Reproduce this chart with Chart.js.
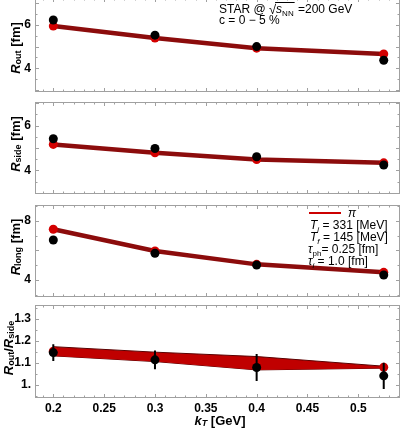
<!DOCTYPE html>
<html>
<head>
<meta charset="utf-8">
<script src="https://cdn.jsdelivr.net/npm/chart.js@4.4.0/dist/chart.umd.min.js"></script>
<style>
  html, body { margin: 0; padding: 0; background: #fff; }
  #wrap { position: relative; width: 407px; height: 428px; overflow: hidden; }
  .box { position: absolute; left: 0; width: 407px; }
</style>
</head>
<body>
<div id="wrap">
  <div class="box" style="top:-2px;height:94px"><canvas id="pOut"></canvas></div>
  <div class="box" style="top:102px;height:92px"><canvas id="pSide"></canvas></div>
  <div class="box" style="top:205px;height:92px"><canvas id="pLong"></canvas></div>
  <div class="box" style="top:300px;height:128px"><canvas id="pRatio"></canvas></div>
</div>
<script>
// k_T bins [GeV]
const kT = [0.2, 0.3, 0.4, 0.525];

// STAR data (black) and model (red)
const routData = [6.23, 5.53, 5.0, 4.37];
const routModel = [5.95, 5.4, 4.93, 4.66];
const rsideData = [5.41, 4.98, 4.61, 4.24];
const rsideModel = [5.16, 4.79, 4.49, 4.34];
const rlongData = [6.71, 5.81, 5.02, 4.34];
const rlongModel = [7.44, 5.97, 5.06, 4.52];

// Rout/Rside
const ratioData = [1.147, 1.114, 1.079, 1.041];
const ratioErr = [0.038, 0.043, 0.062, 0.06];
const ratioModel = [1.153, 1.128, 1.099, 1.080];
const ratioBandHi = [1.174, 1.149, 1.129, 1.085];
const ratioBandLo = [1.132, 1.106, 1.068, 1.076];

// labelled ticks
const outSideTicks = [4, 6];
const longTicks = [4, 8];
const ratioTicks = [1.0, 1.1, 1.2, 1.3];

const FONT = '"Liberation Sans", Arial, sans-serif';
const pts = (ys) => kT.map((x, i) => ({ x: x, y: ys[i] }));

// frame + inward ticks on all four sides
const frame = {
  id: 'frame',
  beforeDatasetsDraw(chart, args, o) {
    const { ctx, chartArea: a, scales: { x, y } } = chart;
    ctx.save();
    ctx.strokeStyle = '#a0a0a0';
    ctx.lineWidth = 1;
    ctx.strokeRect(a.left + 0.5, a.top + 0.5, a.width - 1, a.height - 1);
    ctx.beginPath();
    const run = (sc, minor, major, horiz) => {
      const i0 = Math.ceil(sc.min / minor - 1e-6), i1 = Math.floor(sc.max / minor + 1e-6);
      for (let i = i0; i <= i1; i++) {
        const v = i * minor;
        const r = v / major;
        const len = Math.abs(r - Math.round(r)) < 1e-6 ? 4 : 2.5;
        const p = Math.round(sc.getPixelForValue(v)) + 0.5;
        if (horiz) {
          ctx.moveTo(p, a.bottom); ctx.lineTo(p, a.bottom - len);
          ctx.moveTo(p, a.top); ctx.lineTo(p, a.top + len);
        } else {
          ctx.moveTo(a.left, p); ctx.lineTo(a.left + len, p);
          ctx.moveTo(a.right, p); ctx.lineTo(a.right - len, p);
        }
      }
    };
    run(x, 0.01, 0.05, true);
    run(y, o.minor, o.major, false);
    ctx.stroke();
    ctx.restore();
  }
};

// draw a row of text pieces (for sub/superscripts)
function rich(ctx, x, y, segs, align) {
  let w = 0;
  segs.forEach(s => { ctx.font = s.f; w += ctx.measureText(s.t).width; });
  let cx = align === 'center' ? x - w / 2 : x;
  segs.forEach(s => {
    ctx.font = s.f;
    ctx.fillText(s.t, cx, y + (s.dy || 0));
    cx += ctx.measureText(s.t).width;
  });
}

function yTitle(ctx, x, y, segs) {
  ctx.save();
  ctx.translate(x, y);
  ctx.rotate(-Math.PI / 2);
  ctx.fillStyle = '#000';
  ctx.textBaseline = 'middle';
  rich(ctx, 0, 0, segs, 'center');
  ctx.restore();
}

const B = 'bold 13px ' + FONT, BI = 'bold italic 13px ' + FONT, BS = 'bold 9px ' + FONT;

function noPad(s) {
  s.paddingTop = 0; s.paddingBottom = 0; s.paddingLeft = 0; s.paddingRight = 0;
}

function makePanel(id, yMin, yMax, step, labelled, datasets, opts) {
  const bottom = !!opts.bottom;
  return new Chart(document.getElementById(id), {
    type: 'scatter',
    data: { datasets: datasets },
    options: {
      responsive: true,
      maintainAspectRatio: false,
      animation: false,
      layout: { autoPadding: false, padding: { top: opts.padTop || 0, right: 7, bottom: 0, left: 0 } },
      plugins: { legend: { display: false }, tooltip: { enabled: false }, frame: { minor: opts.minor, major: opts.major } },
      scales: {
        x: {
          type: 'linear', min: 0.182, max: 0.541, display: bottom,
          grid: { display: false, drawTicks: false }, border: { display: false },
          ticks: {
            stepSize: 0.05, includeBounds: false, padding: 3, color: '#000',
            font: { family: FONT, size: 12, weight: 'bold' },
            callback: v => String(+v.toFixed(2))
          },
          afterFit: s => { s.height = bottom ? 30 : 0; noPad(s); }
        },
        y: {
          min: yMin, max: yMax,
          grid: { display: false, drawTicks: false }, border: { display: false },
          ticks: {
            stepSize: step, includeBounds: false, padding: 4, color: '#000',
            font: { family: FONT, size: 12, weight: 'bold' },
            callback: v => {
              const hit = labelled.find(t => Math.abs(t - v) < 1e-6);
              if (hit === undefined) return null;
              return opts.dotOne && Number.isInteger(hit) ? hit + '.' : String(hit);
            }
          },
          afterFit: s => { s.width = 35; noPad(s); }
        }
      }
    },
    plugins: [frame].concat(opts.plugins || [])
  });
}

function dataSet(ys) {
  return { data: pts(ys), pointRadius: 4.5, pointBackgroundColor: '#000', pointBorderWidth: 0 };
}
function modelSet(ys) {
  return {
    data: pts(ys), showLine: true, borderColor: '#8c0c0c', borderWidth: 4.5,
    pointRadius: 4.5, pointBackgroundColor: '#d40000', pointBorderWidth: 0
  };
}

// R_out
makePanel('pOut', 2.9, 7.25, 0.5, outSideTicks, [dataSet(routData), modelSet(routModel)], {
  minor: 0.5, major: 1,
  plugins: [{
    id: 'outText',
    afterDraw(chart) {
      const ctx = chart.ctx;
      ctx.save();
      ctx.fillStyle = '#000';
      yTitle(ctx, 16, 50, [{ t: 'R', f: BI }, { t: 'out', f: BS, dy: 3 }, { t: ' [fm]', f: B }]);
      // STAR @ sqrt(s_NN)=200 GeV
      const N = '12px ' + FONT;
      ctx.textBaseline = 'alphabetic';
      let x = 219, y = 15;
      ctx.font = N; ctx.fillText('STAR @ ', x, y); x += ctx.measureText('STAR @ ').width;
      ctx.font = '13px ' + FONT; ctx.fillText('\u221A', x, y + 1); x += ctx.measureText('\u221A').width;
      const x0 = x;
      ctx.font = 'italic 12px ' + FONT; ctx.fillText('s', x, y); x += ctx.measureText('s').width;
      ctx.font = '8px ' + FONT; ctx.fillText('NN', x, y + 3); x += ctx.measureText('NN').width;
      ctx.strokeStyle = '#000'; ctx.lineWidth = 1;
      ctx.beginPath(); ctx.moveTo(x0 - 1, y - 10.5); ctx.lineTo(x + 1, y - 10.5); ctx.stroke();
      ctx.font = N; ctx.fillText(' =200 GeV', x + 1, y);
      ctx.fillText('c = 0 \u2212 5 %', 219, 26);
      ctx.restore();
    }
  }]
});

// R_side
makePanel('pSide', 2.95, 7.05, 0.5, outSideTicks, [dataSet(rsideData), modelSet(rsideModel)], {
  minor: 0.5, major: 1,
  plugins: [{
    id: 'sideText',
    afterDraw(chart) {
      yTitle(chart.ctx, 16, 42, [{ t: 'R', f: BI }, { t: 'side', f: BS, dy: 3 }, { t: ' [fm]', f: B }]);
    }
  }]
});

// R_long + legend
makePanel('pLong', 2.85, 9.08, 1, longTicks, [dataSet(rlongData), modelSet(rlongModel)], {
  minor: 1, major: 2,
  plugins: [{
    id: 'longText',
    afterDraw(chart) {
      const ctx = chart.ctx;
      yTitle(ctx, 16, 42, [{ t: 'R', f: BI }, { t: 'long', f: BS, dy: 3 }, { t: ' [fm]', f: B }]);
      ctx.save();
      ctx.strokeStyle = '#cc0000'; ctx.lineWidth = 2;
      ctx.beginPath(); ctx.moveTo(309, 8); ctx.lineTo(341, 8); ctx.stroke();
      ctx.fillStyle = '#000';
      ctx.textBaseline = 'alphabetic';
      const N = '12px ' + FONT, I = 'italic 12px ' + FONT, S = '8px ' + FONT, SI = 'italic 8px ' + FONT;
      rich(ctx, 348, 12, [{ t: '\u03C0', f: I }]);
      rich(ctx, 310, 24, [{ t: 'T', f: I }, { t: 'i', f: SI, dy: 3 }, { t: ' = 331 [MeV]', f: N }]);
      rich(ctx, 310, 36, [{ t: 'T', f: I }, { t: 'f', f: SI, dy: 3 }, { t: ' = 145 [MeV]', f: N }]);
      rich(ctx, 308, 48, [{ t: '\u03C4', f: I }, { t: 'ph', f: S, dy: 3 }, { t: '= 0.25 [fm]', f: N }]);
      rich(ctx, 308, 60, [{ t: '\u03C4', f: I }, { t: 'i', f: SI, dy: 3 }, { t: ' = 1.0 [fm]', f: N }]);
      ctx.restore();
    }
  }]
});

// Rout/Rside ratio with error bars and model band
const errBars = {
  id: 'errBars',
  beforeDatasetDraw(chart, args) {
    if (args.index !== 0) return;
    const { ctx, scales: { x, y } } = chart;
    ctx.save();
    ctx.strokeStyle = '#000'; ctx.lineWidth = 2;
    ctx.beginPath();
    kT.forEach((k, i) => {
      const px = x.getPixelForValue(k);
      ctx.moveTo(px, y.getPixelForValue(ratioData[i] + ratioErr[i]));
      ctx.lineTo(px, y.getPixelForValue(ratioData[i] - ratioErr[i]));
    });
    ctx.stroke();
    ctx.restore();
  }
};

makePanel('pRatio', 0.94, 1.364, 0.1, ratioTicks, [
  dataSet(ratioData),
  { data: pts(ratioModel), pointRadius: 4.5, pointBackgroundColor: '#c80000', pointBorderWidth: 0 },
  { data: pts(ratioBandHi), showLine: true, borderColor: '#5a0000', borderWidth: 1, pointRadius: 0, fill: '+1', backgroundColor: '#c00000' },
  { data: pts(ratioBandLo), showLine: true, borderColor: '#5a0000', borderWidth: 1, pointRadius: 0 }
], {
  bottom: true, padTop: 5, minor: 0.05, major: 0.1, dotOne: true,
  plugins: [errBars, {
    id: 'ratioText',
    afterDraw(chart) {
      const ctx = chart.ctx;
      yTitle(ctx, 9, 48, [{ t: 'R', f: BI }, { t: 'out', f: BS, dy: 3 }, { t: '/', f: B }, { t: 'R', f: BI }, { t: 'side', f: BS, dy: 3 }]);
      ctx.save();
      ctx.fillStyle = '#000';
      ctx.textBaseline = 'middle';
      rich(ctx, 220, 121, [{ t: 'k', f: BI }, { t: 'T', f: 'bold italic 9px ' + FONT, dy: 3 }, { t: ' [GeV]', f: B }], 'center');
      ctx.restore();
    }
  }]
});
</script>
</body>
</html>
